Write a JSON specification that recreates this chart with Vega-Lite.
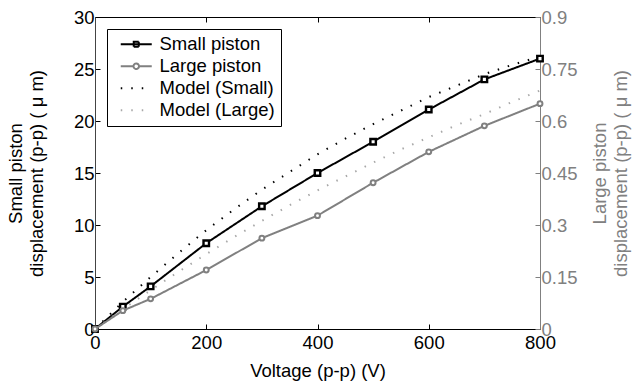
{
  "$schema": "https://vega.github.io/schema/vega-lite/v6.json",
  "width": 445,
  "height": 312,
  "autosize": {"type": "none"},
  "padding": {"left": 95, "top": 17, "right": 94, "bottom": 52},
  "config": {
    "font": "Liberation Sans",
    "view": {"stroke": null},
    "axis": {"grid": false, "labelFlush": false, "labelFontSize": 18.5, "titleFontSize": 18.5, "titleFontWeight": "normal", "labelColor": "black", "titleColor": "black", "domainColor": "black", "tickColor": "black", "tickSize": -5, "domainWidth": 1, "tickWidth": 1}
  },
  "data": {"values": [
    {"V": 0, "series": "Small piston", "y": 0},
    {"V": 50, "series": "Small piston", "y": 2.15},
    {"V": 100, "series": "Small piston", "y": 4.1},
    {"V": 200, "series": "Small piston", "y": 8.25},
    {"V": 300, "series": "Small piston", "y": 11.8},
    {"V": 400, "series": "Small piston", "y": 15.0},
    {"V": 500, "series": "Small piston", "y": 18.0},
    {"V": 600, "series": "Small piston", "y": 21.1},
    {"V": 700, "series": "Small piston", "y": 24.0},
    {"V": 800, "series": "Small piston", "y": 26.0},
    {"V": 0, "series": "Model (Small)", "y": 0},
    {"V": 50, "series": "Model (Small)", "y": 2.6},
    {"V": 100, "series": "Model (Small)", "y": 5.0},
    {"V": 150, "series": "Model (Small)", "y": 7.3},
    {"V": 200, "series": "Model (Small)", "y": 9.5},
    {"V": 250, "series": "Model (Small)", "y": 11.5},
    {"V": 300, "series": "Model (Small)", "y": 13.4},
    {"V": 350, "series": "Model (Small)", "y": 15.1},
    {"V": 400, "series": "Model (Small)", "y": 16.8},
    {"V": 450, "series": "Model (Small)", "y": 18.3},
    {"V": 500, "series": "Model (Small)", "y": 19.7},
    {"V": 550, "series": "Model (Small)", "y": 21.0},
    {"V": 600, "series": "Model (Small)", "y": 22.3},
    {"V": 650, "series": "Model (Small)", "y": 23.4},
    {"V": 700, "series": "Model (Small)", "y": 24.5},
    {"V": 750, "series": "Model (Small)", "y": 25.4},
    {"V": 800, "series": "Model (Small)", "y": 26.2},
    {"V": 0, "series": "Large piston", "y": 0},
    {"V": 50, "series": "Large piston", "y": 0.053},
    {"V": 100, "series": "Large piston", "y": 0.087},
    {"V": 200, "series": "Large piston", "y": 0.17},
    {"V": 300, "series": "Large piston", "y": 0.262},
    {"V": 400, "series": "Large piston", "y": 0.327},
    {"V": 500, "series": "Large piston", "y": 0.422},
    {"V": 600, "series": "Large piston", "y": 0.511},
    {"V": 700, "series": "Large piston", "y": 0.586},
    {"V": 800, "series": "Large piston", "y": 0.65},
    {"V": 0, "series": "Model (Large)", "y": 0},
    {"V": 50, "series": "Model (Large)", "y": 0.057},
    {"V": 100, "series": "Model (Large)", "y": 0.112},
    {"V": 150, "series": "Model (Large)", "y": 0.165},
    {"V": 200, "series": "Model (Large)", "y": 0.216},
    {"V": 250, "series": "Model (Large)", "y": 0.265},
    {"V": 300, "series": "Model (Large)", "y": 0.312},
    {"V": 350, "series": "Model (Large)", "y": 0.357},
    {"V": 400, "series": "Model (Large)", "y": 0.4},
    {"V": 450, "series": "Model (Large)", "y": 0.44},
    {"V": 500, "series": "Model (Large)", "y": 0.48},
    {"V": 550, "series": "Model (Large)", "y": 0.518},
    {"V": 600, "series": "Model (Large)", "y": 0.553},
    {"V": 650, "series": "Model (Large)", "y": 0.588},
    {"V": 700, "series": "Model (Large)", "y": 0.62},
    {"V": 750, "series": "Model (Large)", "y": 0.655},
    {"V": 800, "series": "Model (Large)", "y": 0.688}
  ]},
  "layer": [
    {
      "encoding": {
        "x": {"field": "V", "type": "quantitative", "scale": {"domain": [0, 800], "nice": false},
          "axis": {"orient": "bottom", "values": [0, 200, 400, 600, 800], "title": "Voltage (p-p) (V)", "labelPadding": 9, "titlePadding": 10}},
        "y": {"field": "y", "type": "quantitative", "scale": {"domain": [0, 30], "nice": false},
          "axis": {"orient": "left", "values": [0, 5, 10, 15, 20, 25, 30], "title": ["Small piston", "displacement (p-p) ( μ m)"], "labelPadding": 6, "titlePadding": 27, "domainColor": "#444444"}}
      },
      "layer": [
        {
          "transform": [{"filter": "datum.series === 'Model (Small)'"}],
          "mark": {"type": "line", "strokeWidth": 2, "strokeCap": "butt"},
          "encoding": {
            "color": {"field": "series", "type": "nominal",
              "scale": {"domain": ["Small piston", "Large piston", "Model (Small)", "Model (Large)"], "range": ["black", "#808080", "black", "#a8a8a8"]},
              "legend": {
                "title": null, "orient": "top-left", "offset": 12,
                "strokeColor": "black", "fillColor": "white", "padding": 6, "cornerRadius": 0,
                "labelFontSize": 18.5, "labelColor": "black", "labelOffset": 14, "rowPadding": 3,
                "symbolOffset": 14, "symbolStrokeWidth": 2, "symbolSize": 100,
                "encode": {"symbols": {"update": {
                  "shape": {"signal": "datum.value === 'Small piston' ? 'M-3.1,0H3.1M-0.5,-0.5H0.5V0.5H-0.5Z' : datum.value === 'Large piston' ? 'M-3.1,0H-0.55A0.55,0.55 0 1,1 0.55,0A0.55,0.55 0 1,1 -0.55,0M0.55,0H3.1' : 'M-3.1,0H3.1'"},
                  "strokeDash": {"signal": "indexof(datum.value, 'Model') >= 0 ? [1.5, 9] : [1, 0]"},
                  "fill": {"value": "white"},
                  "fillOpacity": {"value": 1},
                  "size": {"value": 100}
                }}}
              }},
            "strokeDash": {"field": "series", "type": "nominal",
              "scale": {"domain": ["Small piston", "Large piston", "Model (Small)", "Model (Large)"], "range": [[1, 0], [1, 0], [1.5, 9], [1.5, 9]]},
              "legend": null}
          }
        },
        {
          "transform": [{"filter": "datum.series === 'Small piston'"}],
          "mark": {"type": "line", "strokeWidth": 2},
          "encoding": {
            "color": {"field": "series", "type": "nominal"},
            "strokeDash": {"field": "series", "type": "nominal", "legend": null}
          }
        },
        {
          "transform": [{"filter": "datum.series === 'Small piston'"}],
          "mark": {"type": "point", "shape": "square", "size": 30, "filled": false, "fill": "white", "fillOpacity": 1, "stroke": "black", "strokeWidth": 2.4, "opacity": 1}
        }
      ]
    },
    {
      "encoding": {
        "x": {"field": "V", "type": "quantitative", "scale": {"domain": [0, 800], "nice": false},
          "axis": {"orient": "top", "values": [0, 200, 400, 600, 800], "labels": false, "title": null}},
        "y": {"field": "y", "type": "quantitative", "scale": {"domain": [0, 0.9], "nice": false},
          "axis": {"orient": "right", "values": [0, 0.15, 0.3, 0.45, 0.6, 0.75, 0.9], "format": ".2~f", "labelOverlap": false, "title": ["Large piston", "displacement (p-p) ( μ m)"], "titleAngle": -90, "labelPadding": 6, "titlePadding": 12, "labelColor": "#808080", "titleColor": "#808080", "domainColor": "#808080", "tickColor": "#808080"}}
      },
      "layer": [
        {
          "transform": [{"filter": "datum.series === 'Model (Large)'"}],
          "mark": {"type": "line", "strokeWidth": 2, "strokeCap": "butt"},
          "encoding": {
            "color": {"field": "series", "type": "nominal"},
            "strokeDash": {"field": "series", "type": "nominal", "legend": null}
          }
        },
        {
          "transform": [{"filter": "datum.series === 'Large piston'"}],
          "mark": {"type": "line", "strokeWidth": 2},
          "encoding": {
            "color": {"field": "series", "type": "nominal"},
            "strokeDash": {"field": "series", "type": "nominal", "legend": null}
          }
        },
        {
          "transform": [{"filter": "datum.series === 'Large piston'"}],
          "mark": {"type": "point", "shape": "circle", "size": 24, "filled": false, "fill": "white", "fillOpacity": 1, "stroke": "#808080", "strokeWidth": 2, "opacity": 1}
        }
      ]
    }
  ],
  "resolve": {"scale": {"y": "independent"}, "axis": {"x": "independent"}}
}
